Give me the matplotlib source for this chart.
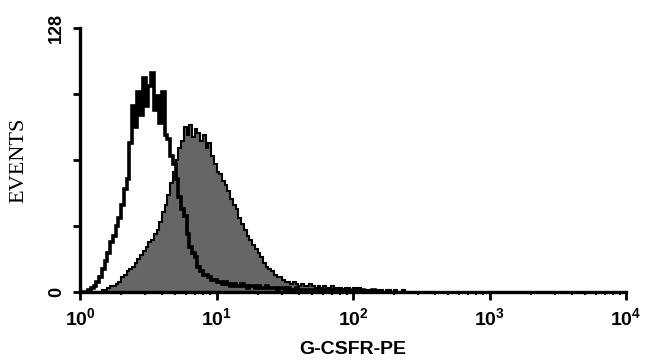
import numpy as np
import matplotlib
matplotlib.use("Agg")
import matplotlib.pyplot as plt
from matplotlib.ticker import FixedLocator, FuncFormatter

# histogram channels, 50 per decade, starting at 10^0
bins_per_decade = 50

# unstained / isotype control (open histogram)
control_counts = [
    0, 0, 0, 1, 2, 3, 5, 7, 11, 15,
    19, 24, 27, 32, 36, 42, 50, 55, 72, 90,
    80, 97, 86, 104, 90, 100, 106, 88, 95, 82,
    97, 76, 74, 66, 62, 55, 46, 40, 37, 28,
    22, 19, 17, 12, 10, 8, 8, 7, 6, 6,
    5, 5, 4, 5, 4, 3, 4, 3, 3, 4,
    3, 2, 3, 3, 2, 3, 2, 2, 3, 2,
    2, 2, 1, 2, 2, 1, 2, 1, 1, 2,
    1, 1, 0, 1, 1, 0, 1, 1, 0, 1,
    1, 0, 1, 0, 1, 1, 0, 1, 0, 0,
    1, 0, 0, 1, 0, 0, 0, 1, 0, 0,
]

# G-CSFR-PE stained (filled histogram)
stained_counts = [
    0, 0, 0, 0, 0, 0, 0, 0, 1, 1,
    2, 3, 3, 4, 5, 7, 8, 10, 11, 12,
    14, 16, 18, 20, 22, 24, 25, 28, 30, 34,
    39, 42, 47, 53, 58, 64, 70, 73, 80, 76,
    81, 75, 79, 77, 73, 76, 70, 72, 66, 62,
    58, 57, 54, 52, 49, 45, 42, 40, 36, 33,
    30, 27, 25, 23, 21, 19, 17, 14, 12, 11,
    10, 8, 7, 7, 6, 5, 5, 4, 5, 4,
    3, 4, 3, 3, 4, 3, 2, 3, 2, 3,
    2, 2, 3, 2, 2, 2, 1, 2, 2, 1,
    2, 1, 2, 1, 1, 1, 0, 1, 1, 0,
    1, 0, 1, 1, 0, 1, 0, 0, 1, 0,
]

decades = [0, 1, 2, 3, 4]
y_ticks = [0, 32, 64, 96, 128]
y_labels = {0: "0", 128: "128"}

plt.rcParams["mathtext.fontset"] = "custom"
plt.rcParams["mathtext.rm"] = "Liberation Sans:bold"
plt.rcParams["mathtext.bf"] = "Liberation Sans:bold"

fig = plt.figure(figsize=(6.46, 3.64), dpi=100)
ax = fig.add_axes([0.124, 0.198, 0.845, 0.725])

edges_s = 10 ** (np.arange(len(stained_counts) + 1) / bins_per_decade)
edges_c = 10 ** (np.arange(len(control_counts) + 1) / bins_per_decade)

ax.stairs(stained_counts, edges_s, fill=True, color="#666666", zorder=2)
ax.stairs(stained_counts, edges_s, color="black", linewidth=1.5, zorder=3)
ax.stairs(control_counts, edges_c, color="black", linewidth=2.6, zorder=4)

ax.set_xscale("log")
ax.set_xlim(1, 1e4)
ax.set_ylim(0, 128)

ax.xaxis.set_major_locator(FixedLocator([10 ** d for d in decades]))
ax.xaxis.set_major_formatter(FuncFormatter(lambda v, p: r"$10^{%d}$" % round(np.log10(v))))
minor = [m * 10 ** d for d in decades[:-1] for m in range(2, 10)]
ax.xaxis.set_minor_locator(FixedLocator(minor))
ax.xaxis.set_minor_formatter(FuncFormatter(lambda v, p: ""))

ax.set_yticks(y_ticks)
ax.set_yticklabels([y_labels.get(t, "") for t in y_ticks], rotation=90, va="center",
                   fontsize=13, fontweight="bold", family="Liberation Sans")

for s in ["top", "right"]:
    ax.spines[s].set_visible(False)
for s in ["left", "bottom"]:
    ax.spines[s].set_linewidth(2.4)

ax.tick_params(axis="x", which="major", length=6, width=2, labelsize=14, pad=5)
ax.tick_params(axis="x", which="minor", length=2.5, width=1.5)
ax.tick_params(axis="y", which="major", length=5, width=2, pad=6)

ax.set_ylabel("EVENTS", family="Liberation Serif", fontsize=16, labelpad=14)
ax.set_xlabel("G-CSFR-PE", family="Liberation Sans", fontweight="bold", fontsize=14, labelpad=8)

fig.savefig("out.png", dpi=100)
